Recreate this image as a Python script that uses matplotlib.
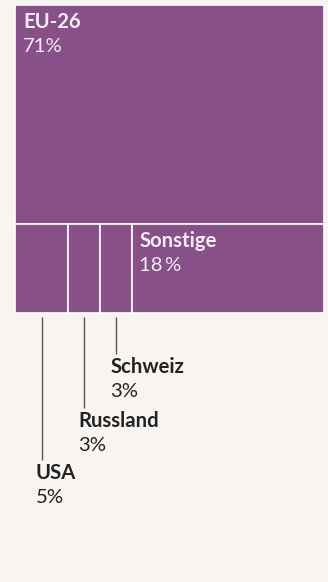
import matplotlib
matplotlib.use("Agg")
import matplotlib.pyplot as plt
from matplotlib.patches import Rectangle

# Anteile nach Herkunftsregion (Prozent)
regions = ["EU-26", "USA", "Russland", "Schweiz", "Sonstige"]
shares = [71, 5, 3, 3, 18]
share_labels = ["71%", "5%", "3%", "3%", "18\u2009%"]

BG = "#f7f4f2"
PURPLE = "#875088"
INNER_TEXT = "#f3ecf3"
OUTER_TEXT = "#222222"
FONT = ["Lato", "DejaVu Sans"]
FS = 14.6

W, H = 328, 582
fig = plt.figure(figsize=(W / 100, H / 100), dpi=100, facecolor=BG)
ax = fig.add_axes([0, 0, 1, 1])
ax.set_xlim(0, W)
ax.set_ylim(H, 0)
ax.axis("off")
ax.set_facecolor(BG)

# Treemap frame
x0, x1, y0, y1 = 15, 324, 5, 313
total = sum(shares)
width = x1 - x0
height = y1 - y0

# Top row: largest block spans the full width
top_h = height * shares[0] / total
ax.add_patch(Rectangle((x0, y0), width, top_h, facecolor=PURPLE,
                       edgecolor="white", linewidth=1.2))

# Bottom row: remaining blocks side by side
rest = shares[1:]
rest_total = sum(rest)
row_y = y0 + top_h
row_h = height - top_h
cells = []
cx = x0
for val in rest:
    w = width * val / rest_total
    ax.add_patch(Rectangle((cx, row_y), w, row_h, facecolor=PURPLE,
                           edgecolor="white", linewidth=1.2))
    cells.append((cx, w))
    cx += w

# Labels inside the big blocks
ax.text(x0 + 8, y0 + 23, regions[0], color=INNER_TEXT, fontsize=FS,
        fontweight="bold", family=FONT, va="baseline")
ax.text(x0 + 8, y0 + 47, share_labels[0], color=INNER_TEXT, fontsize=FS,
        family=FONT, va="baseline")
sx = cells[3][0]
ax.text(sx + 7, row_y + 23, regions[4], color=INNER_TEXT, fontsize=FS,
        fontweight="bold", family=FONT, va="baseline")
ax.text(sx + 7, row_y + 47, share_labels[4], color=INNER_TEXT, fontsize=FS,
        family=FONT, va="baseline")

# Small blocks labelled below with leader lines
label_base = {1: 479, 2: 427, 3: 373}
for i in (1, 2, 3):
    cxi, wi = cells[i - 1]
    lx = cxi + wi / 2
    base = label_base[i]
    ax.plot([lx, lx], [y1 + 4, base - 19], color="#555555", linewidth=1.0,
            solid_capstyle="butt")
    ax.text(lx - 6, base, regions[i], color=OUTER_TEXT, fontsize=FS,
            fontweight="bold", family=FONT, va="baseline")
    ax.text(lx - 6, base + 24, share_labels[i], color=OUTER_TEXT, fontsize=FS,
            family=FONT, va="baseline")

fig.savefig("out.png", dpi=100, facecolor=BG)
